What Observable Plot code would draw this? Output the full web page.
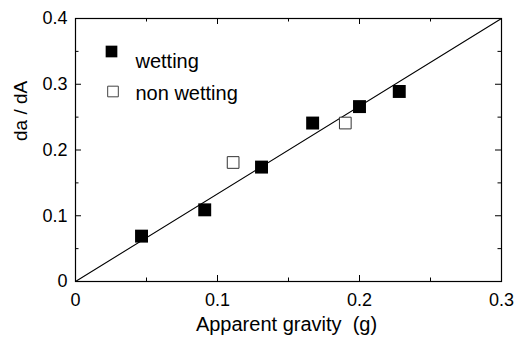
<!DOCTYPE html>
<html><head><meta charset="utf-8">
<script src="https://cdn.jsdelivr.net/npm/d3@7"></script>
<script src="https://cdn.jsdelivr.net/npm/@observablehq/plot@0.6"></script>
<style>
body{margin:0;background:#fff;}
#chart{width:516px;height:337px;}
</style></head><body><div id="chart"></div>
<script>
// Data
const wettingX = [0.0465, 0.091, 0.131, 0.167, 0.200, 0.228];
const wettingY = [0.069, 0.109, 0.174, 0.241, 0.266, 0.289];
const nonWettingX = [0.111, 0.190];
const nonWettingY = [0.181, 0.241];
const fitX = [0, 0.3];
const fitY = [0, 0.4];
const xMajor = [0, 0.1, 0.2, 0.3];
const xMinor = [0.05, 0.15, 0.25];
const yMajor = [0, 0.1, 0.2, 0.3, 0.4];
const yMinor = [0.05, 0.15, 0.25, 0.35];
const xLabel = "Apparent gravity\u00a0\u00a0(g)";
const yLabel = "da / dA";
const legendLabels = ["wetting", "non wetting"];

const wet = wettingX.map((x, i) => ({x, y: wettingY[i]}));
const dry = nonWettingX.map((x, i) => ({x, y: nonWettingY[i]}));
const fit = fitX.map((x, i) => ({x, y: fitY[i]}));
const fmt = d => String(d);

const W = 516, H = 337, mL = 75, mR = 15, mT = 18, mB = 56;
const fw = W - mL - mR, fh = H - mT - mB;
const major = 6, minor = 3.5;
const tk = {stroke: "#000", strokeWidth: 1};

const plot = Plot.plot({
  width: W, height: H,
  marginLeft: mL, marginRight: mR, marginTop: mT, marginBottom: mB,
  style: {fontFamily: "'Liberation Sans', Arial, Helvetica, sans-serif", fontSize: "18px", background: "#fff", color: "#000"},
  x: {domain: [0, 0.3]},
  y: {domain: [0, 0.4]},
  marks: [
    // tick labels
    Plot.axisX(xMajor, {anchor: "bottom", tickSize: 0, tickPadding: 12, tickFormat: fmt, fontSize: 18, label: null}),
    Plot.axisY(yMajor, {anchor: "left", tickSize: 0, tickPadding: 8, tickFormat: fmt, fontSize: 18, label: null}),
    // inward ticks on all four sides
    Plot.tickX(xMajor, {x: d => d, insetTop: fh - major, ...tk}),
    Plot.tickX(xMinor, {x: d => d, insetTop: fh - minor, ...tk}),
    Plot.tickX(xMajor, {x: d => d, insetBottom: fh - major, ...tk}),
    Plot.tickX(xMinor, {x: d => d, insetBottom: fh - minor, ...tk}),
    Plot.tickY(yMajor, {y: d => d, insetRight: fw - major, ...tk}),
    Plot.tickY(yMinor, {y: d => d, insetRight: fw - minor, ...tk}),
    Plot.tickY(yMajor, {y: d => d, insetLeft: fw - major, ...tk}),
    Plot.tickY(yMinor, {y: d => d, insetLeft: fw - minor, ...tk}),
    Plot.frame({stroke: "#000", strokeWidth: 1.2}),
    Plot.line(fit, {x: "x", y: "y", stroke: "#000", strokeWidth: 1.1}),
    Plot.dot(wet, {x: "x", y: "y", symbol: "square", r: 7.3, fill: "#000", stroke: "none"}),
    Plot.dot(dry, {x: "x", y: "y", symbol: "square", r: 6.6, fill: "#fff", stroke: "#333", strokeWidth: 1}),
    // legend
    Plot.dot([legendLabels[0]], {x: null, y: null, frameAnchor: "top-left", dx: 36, dy: 33, symbol: "square", r: 6.6, fill: "#000", stroke: "none"}),
    Plot.dot([legendLabels[1]], {x: null, y: null, frameAnchor: "top-left", dx: 37.5, dy: 73, symbol: "square", r: 6, fill: "#fff", stroke: "#444", strokeWidth: 1}),
    Plot.text([legendLabels[0]], {x: null, y: null, text: d => d, frameAnchor: "top-left", dx: 60, dy: 35, textAnchor: "start", fontSize: 20}),
    Plot.text([legendLabels[1]], {x: null, y: null, text: d => d, frameAnchor: "top-left", dx: 60, dy: 67.5, textAnchor: "start", fontSize: 20}),
    // axis titles
    Plot.text([xLabel], {x: null, y: null, text: d => d, frameAnchor: "bottom", dx: -2, dy: 49, lineAnchor: "bottom", fontSize: 20}),
    Plot.text([yLabel], {x: null, y: null, text: d => d, frameAnchor: "left", dx: -55, dy: -9, rotate: -90, lineAnchor: "middle", fontSize: 19})
  ]
});
document.getElementById("chart").appendChild(plot);
</script></body></html>
